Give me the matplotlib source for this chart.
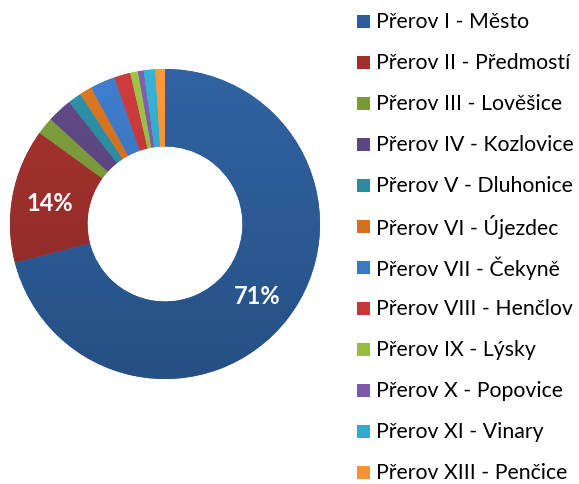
import numpy as np
import matplotlib
matplotlib.use("Agg")
import matplotlib.pyplot as plt
from matplotlib.colors import LinearSegmentedColormap, to_rgb
from matplotlib.patches import Rectangle

# parts of Přerov, share of the total (%), clockwise from 12 o'clock
labels = ["Přerov I - Město", "Přerov II - Předmostí", "Přerov III - Lověšice",
          "Přerov IV - Kozlovice", "Přerov V - Dluhonice", "Přerov VI - Újezdec",
          "Přerov VII - Čekyně", "Přerov VIII - Henčlov", "Přerov IX - Lýsky",
          "Přerov X - Popovice", "Přerov XI - Vinary", "Přerov XIII - Penčice"]
shares = [71.0, 14.0, 1.8, 2.6, 1.4, 1.3, 2.6, 1.7, 0.8, 0.6, 1.2, 1.0]
shown_pct = ["71%", "14%"]

colors = ["#2C5D9A", "#9E2F2C", "#7A9A3A", "#5C4682", "#2B8BA0", "#D4711E",
          "#3B78C4", "#C5383A", "#98BC40", "#7A5BA8", "#33AACD", "#F59233"]

plt.rcParams['font.family'] = ['Lato', 'DejaVu Sans']

W, H = 579, 485
fig = plt.figure(figsize=(W / 100, H / 100), dpi=100)

cx, cy, R = 165, 225, 155
half = 160
ax = fig.add_axes([(cx - half) / W, (H - cy - half) / H, 2 * half / W, 2 * half / H])

wedges, _ = ax.pie(shares, colors=colors, startangle=90, counterclock=False,
                   radius=1, wedgeprops=dict(width=0.5, linewidth=0))

# vertical gradient (a bit lighter on top, darker at the bottom) clipped to each wedge
grad = np.linspace(0, 1, 256).reshape(-1, 1)
for w, c in zip(wedges, colors):
    rgb = np.array(to_rgb(c))
    light = np.clip(rgb * 1.04 + 0.01, 0, 1)
    dark = rgb * 0.86
    cmap = LinearSegmentedColormap.from_list("g", [dark, light])
    im = ax.imshow(grad, extent=[-1, 1, -1, 1], origin="lower", cmap=cmap,
                   aspect="auto", zorder=2)
    im.set_clip_path(w)

# percentage labels on the two large slices
cum = np.cumsum([0] + shares)
for i, txt in enumerate(shown_pct):
    mid = (cum[i] + cum[i + 1]) / 2 / sum(shares) * 360
    ang = np.deg2rad(90 - mid)
    ax.text(0.755 * np.cos(ang), 0.755 * np.sin(ang), txt, color="white",
            fontsize=17, fontweight="bold", ha="center", va="center", zorder=5)

lim = half / R
ax.set_xlim(-lim, lim)
ax.set_ylim(-lim, lim)
ax.set_aspect("equal")
ax.axis("off")

# legend, drawn by hand to keep Excel-like spacing
for i, (name, c) in enumerate(zip(labels, colors)):
    y = 22 + i * 41.0
    fig.patches.append(Rectangle(((357) / W, (H - y - 6.5) / H), 13 / W, 13 / H,
                                 transform=fig.transFigure, facecolor=c,
                                 edgecolor="none"))
    fig.text(376 / W, (H - y) / H, name, fontsize=15.3, va="center", ha="left",
             color="black")

fig.savefig("out.png", dpi=100)
